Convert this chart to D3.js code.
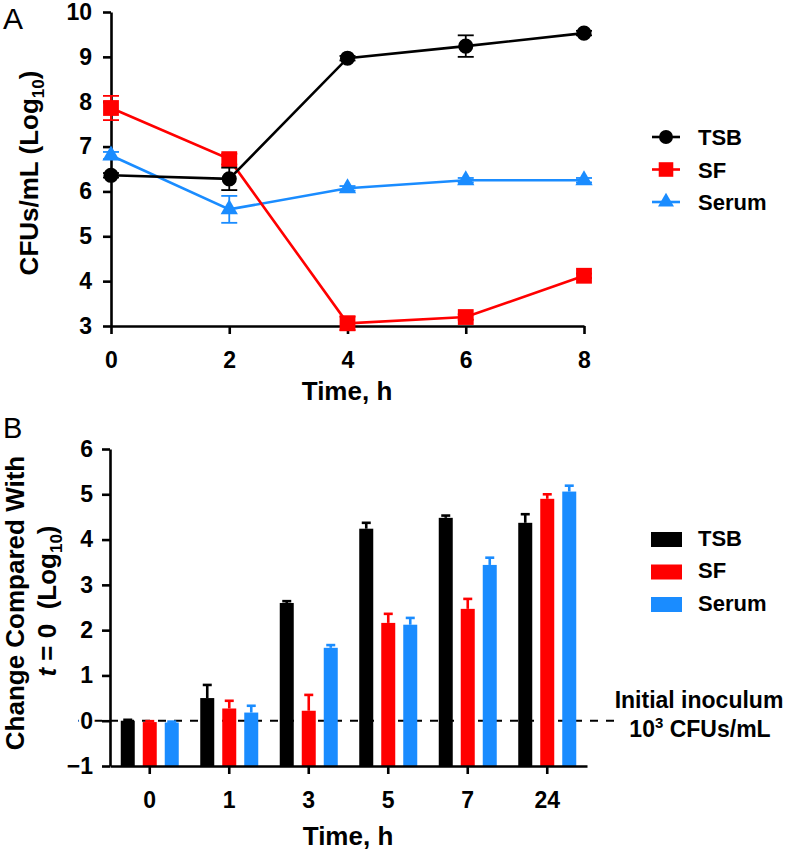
<!DOCTYPE html>
<html>
<head>
<meta charset="utf-8">
<script src="https://cdn.jsdelivr.net/npm/d3@7/dist/d3.min.js"></script>
<style>
  body { margin: 0; background: #fff; }
  svg { display: block; font-family: "Liberation Sans", Arial, Helvetica, sans-serif; }
  .tick text { font-weight: bold; font-size: 23px; fill: #000; }
</style>
</head>
<body>
<svg id="chart" width="788" height="853"></svg>
<script>
// ---------- Panel A data ----------
const timesA = [0, 2, 4, 6, 8];
const seriesNames = ["TSB", "SF", "Serum"];
const tsbA = [6.36, 6.28, 8.97, 9.24, 9.53];
const tsbAErr = [0.05, 0.25, 0.05, 0.24, 0.05];
const sfA = [7.86, 6.72, 3.06, 3.20, 4.12];
const sfAErr = [0.27, 0.12, 0.15, 0.06, 0.05];
const serumA = [6.80, 5.60, 6.07, 6.25, 6.25];
const serumAErr = [0.08, 0.30, 0.05, 0.05, 0.05];
const yTicksA = [3, 4, 5, 6, 7, 8, 9, 10];

// ---------- Panel B data ----------
const timesB = ["0", "1", "3", "5", "7", "24"];
const tsbB = [0.00, 0.50, 2.60, 4.24, 4.48, 4.37];
const tsbBErr = [0.02, 0.29, 0.04, 0.13, 0.05, 0.19];
const sfB = [-0.03, 0.27, 0.22, 2.16, 2.47, 4.90];
const sfBErr = [0.02, 0.17, 0.35, 0.20, 0.22, 0.10];
const serumB = [-0.04, 0.18, 1.61, 2.12, 3.44, 5.06];
const serumBErr = [0.02, 0.15, 0.06, 0.15, 0.16, 0.13];
const yTicksB = [-1, 0, 1, 2, 3, 4, 5, 6];
const inoculumLevel = 0;

const colors = { TSB: "#000000", SF: "#ff0000", Serum: "#1a8cff" };
const symbols = { TSB: d3.symbolCircle, SF: d3.symbolSquare, Serum: d3.symbolTriangle };
const symSizes = { TSB: 180, SF: 250, Serum: 130 };

const svg = d3.select("#chart");

function styleAxis(g) {
  g.select(".domain").attr("stroke", "#000").attr("stroke-width", 2.6);
  g.selectAll(".tick line").attr("stroke", "#000").attr("stroke-width", 2.6);
}

// ================= Panel A =================
const xA = d3.scaleLinear().domain([0, 8]).range([111, 584]);
const yA = d3.scaleLinear().domain([3, 10]).range([326, 12]);

const dataA = [
  { name: "TSB", vals: tsbA, err: tsbAErr },
  { name: "SF", vals: sfA, err: sfAErr },
  { name: "Serum", vals: serumA, err: serumAErr }
];

const gA = svg.append("g");

gA.append("g").attr("transform", `translate(0,${yA(3)})`)
  .call(d3.axisBottom(xA).tickValues(timesA).tickSize(8).tickSizeOuter(0).tickPadding(17.5).tickFormat(d3.format("d")))
  .call(styleAxis);
gA.append("g").attr("transform", `translate(${xA(0)},0)`)
  .call(d3.axisLeft(yA).tickValues(yTicksA).tickSize(8).tickSizeOuter(0).tickPadding(11).tickFormat(d3.format("d")))
  .call(styleAxis);

const line = d3.line().x(d => xA(d[0])).y(d => yA(d[1]));

// draw order: Serum, SF, TSB (TSB on top)
["Serum", "SF", "TSB"].forEach(nm => {
  const s = dataA.find(d => d.name === nm);
  const pts = timesA.map((t, i) => [t, s.vals[i], s.err[i]]);
  const g = gA.append("g");
  pts.forEach(p => {
    const cx = xA(p[0]);
    const y1 = yA(p[1] + p[2]), y2 = yA(p[1] - p[2]);
    g.append("line").attr("x1", cx).attr("x2", cx).attr("y1", y1).attr("y2", y2)
      .attr("stroke", colors[nm]).attr("stroke-width", 1.8);
    [y1, y2].forEach(yy => g.append("line").attr("x1", cx - 8).attr("x2", cx + 8).attr("y1", yy).attr("y2", yy)
      .attr("stroke", colors[nm]).attr("stroke-width", 1.8));
  });
  g.append("path").datum(pts).attr("d", line).attr("fill", "none")
    .attr("stroke", colors[nm]).attr("stroke-width", 2.6);
  g.selectAll("path.sym").data(pts).enter().append("path").attr("class", "sym")
    .attr("transform", p => `translate(${xA(p[0])},${yA(p[1])})`)
    .attr("d", d3.symbol().type(symbols[nm]).size(symSizes[nm]))
    .attr("fill", colors[nm]);
});

// Legend A
const legA = gA.append("g");
seriesNames.forEach((nm, i) => {
  const y = 137 + i * 32.5;
  legA.append("line").attr("x1", 652).attr("x2", 680).attr("y1", y).attr("y2", y)
    .attr("stroke", colors[nm]).attr("stroke-width", 2.6);
  legA.append("path").attr("transform", `translate(666,${y})`)
    .attr("d", d3.symbol().type(symbols[nm]).size(symSizes[nm] * 0.85)).attr("fill", colors[nm]);
  legA.append("text").attr("x", 698).attr("y", y + 8).text(nm)
    .attr("font-size", 22).attr("font-weight", "bold");
});

// Axis titles A
gA.append("text").attr("x", 347).attr("y", 400).attr("text-anchor", "middle")
  .attr("font-size", 26).attr("font-weight", "bold").text("Time, h");
const ytA = gA.append("text").attr("transform", "translate(38,173) rotate(-90)")
  .attr("text-anchor", "middle").attr("font-size", 26).attr("font-weight", "bold");
ytA.append("tspan").text("CFUs/mL (Log");
ytA.append("tspan").attr("font-size", 17).attr("dy", 6).text("10");
ytA.append("tspan").attr("dy", -6).text(")");

svg.append("text").attr("x", 3).attr("y", 29).attr("font-size", 30).text("A");

// ================= Panel B =================
const xB = d3.scaleBand().domain(timesB).range([110, 587]).padding(0);
const xInner = d3.scaleBand().domain(seriesNames).range([-33, 33]).paddingInner(8 / 22).paddingOuter(4 / 22);
const yB = d3.scaleLinear().domain([-1, 6]).range([766, 449]);

const dataB = [
  { name: "TSB", vals: tsbB, err: tsbBErr },
  { name: "SF", vals: sfB, err: sfBErr },
  { name: "Serum", vals: serumB, err: serumBErr }
];

const gB = svg.append("g");

// dashed inoculum line
gB.append("line").attr("x1", 78).attr("x2", 614).attr("y1", yB(inoculumLevel)).attr("y2", yB(inoculumLevel))
  .attr("stroke", "#000").attr("stroke-width", 2).attr("stroke-dasharray", "8,8");

// bars
dataB.forEach(s => {
  const g = gB.append("g");
  timesB.forEach((t, i) => {
    const cx = xB(t) + xB.bandwidth() / 2 + xInner(s.name) + xInner.bandwidth() / 2;
    const top = yB(s.vals[i]);
    const et = yB(s.vals[i] + s.err[i]);
    g.append("line").attr("x1", cx).attr("x2", cx).attr("y1", top).attr("y2", et)
      .attr("stroke", colors[s.name]).attr("stroke-width", 2.6);
    g.append("line").attr("x1", cx - 4.5).attr("x2", cx + 4.5).attr("y1", et).attr("y2", et)
      .attr("stroke", colors[s.name]).attr("stroke-width", 2.6);
    g.append("rect").attr("x", cx - xInner.bandwidth() / 2).attr("width", xInner.bandwidth())
      .attr("y", top).attr("height", yB(-1) - top).attr("fill", colors[s.name]);
  });
});

gB.append("g").attr("transform", `translate(0,${yB(-1)})`)
  .call(d3.axisBottom(xB).tickSize(8).tickSizeOuter(0).tickPadding(17.5))
  .call(styleAxis);
const yAxB = gB.append("g").attr("transform", `translate(110,0)`)
  .call(d3.axisLeft(yB).tickValues(yTicksB).tickSize(8).tickSizeOuter(0).tickPadding(9)
    .tickFormat(d => d < 0 ? "\u2212" + Math.abs(d) : String(d)))
  .call(styleAxis);
yAxB.selectAll(".tick text").attr("stroke", "#fff").attr("stroke-width", 5)
  .attr("paint-order", "stroke").attr("stroke-linejoin", "round");

// Legend B
seriesNames.forEach((nm, i) => {
  const yc = 539.5 + i * 32.5;
  gB.append("rect").attr("x", 651).attr("y", yc - 7.5).attr("width", 31).attr("height", 15).attr("fill", colors[nm]);
  gB.append("text").attr("x", 698).attr("y", yc + 6).text(nm).attr("font-size", 22).attr("font-weight", "bold");
});

// inoculum annotation
gB.append("text").attr("x", 699).attr("y", 708).attr("text-anchor", "middle")
  .attr("font-size", 23).attr("font-weight", "bold").text("Initial inoculum");
const ino = gB.append("text").attr("x", 700).attr("y", 737).attr("text-anchor", "middle")
  .attr("font-size", 23).attr("font-weight", "bold");
ino.append("tspan").text("10");
ino.append("tspan").attr("font-size", 15).attr("dy", -9).text("3");
ino.append("tspan").attr("dy", 9).text(" CFUs/mL");

// axis titles B
gB.append("text").attr("x", 348).attr("y", 845).attr("text-anchor", "middle")
  .attr("font-size", 26).attr("font-weight", "bold").text("Time, h");
gB.append("text").attr("transform", "translate(24,603) rotate(-90)").attr("text-anchor", "middle")
  .attr("font-size", 26).attr("font-weight", "bold").text("Change Compared With");
const yt2 = gB.append("text").attr("transform", "translate(56,601) rotate(-90)").attr("text-anchor", "middle")
  .attr("font-size", 26).attr("font-weight", "bold");
yt2.append("tspan").attr("font-style", "italic").text("t");
yt2.append("tspan").text(" = 0 \u00a0(Log");
yt2.append("tspan").attr("font-size", 17).attr("dy", 6).text("10");
yt2.append("tspan").attr("dy", -6).text(")");

svg.append("text").attr("x", 3).attr("y", 438).attr("font-size", 29).text("B");
</script>
</body>
</html>
